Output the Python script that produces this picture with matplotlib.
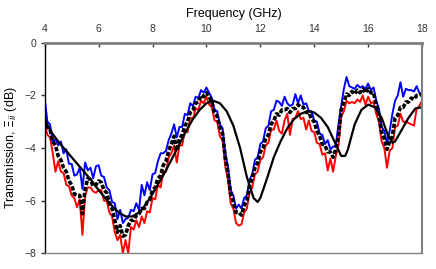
#!/usr/bin/env python3

import matplotlib
matplotlib.use('Agg')
import matplotlib.pyplot as plt
import numpy as np

# measured traces, 0.1 GHz steps from 4 to 18 GHz
freq = np.round(np.arange(4.0, 18.05, 0.1), 2)

meas_mid = [
    -2.9, -3.2, -3.3, -3.75, -3.9, -4.3, -4.45, -4.75, -4.9, -5.25,
    -5.4, -5.75, -5.8, -5.8, -6.5, -5.55, -5.15, -5.2, -5.45, -5.4,
    -5.25, -5.3, -5.6, -5.7, -6.1, -6.3, -6.75, -7.2, -6.95, -7.35,
    -7.3, -6.95, -6.75, -6.75, -6.55, -6.5, -6.3, -6.3, -6.05, -5.95,
    -5.6, -5.5, -5.15, -5.05, -4.65, -4.5, -4.1, -3.85, -3.55, -4.1,
    -3.65, -3.5, -3.15, -3.0, -2.65, -2.55, -2.3, -2.25, -2.0, -2.05,
    -1.9, -2.05, -2.25, -2.65, -2.8, -3.2, -3.45, -4.35, -4.95, -5.75,
    -6.05, -6.45, -6.45, -6.55, -6.2, -6.0, -5.45, -5.15, -4.75, -4.55,
    -4.15, -4.0, -3.65, -3.5, -3.1, -2.95, -2.7, -2.75, -2.55, -2.55,
    -2.5, -2.65, -2.5, -2.5, -2.35, -2.45, -2.45, -2.65, -2.65, -2.9,
    -3.0, -3.35, -3.55, -3.85, -3.9, -4.15, -4.15, -4.35, -4.05, -3.55,
    -2.55, -2.25, -1.95, -2.0, -1.85, -1.95, -1.8, -1.9, -1.75, -1.9,
    -1.75, -1.9, -1.9, -2.35, -2.75, -3.4, -3.65, -4.05, -3.75, -3.55,
    -2.85, -2.75, -2.45, -2.45, -2.25, -2.25, -2.1, -2.15, -2.0, -2.0,
    -1.95,
]

meas_red = [
    -3.1, -3.5, -3.6, -4.2, -4.9, -4.5, -4.9, -4.95, -5.4, -5.45,
    -5.8, -5.9, -6.25, -5.95, -7.3, -5.8, -5.5, -5.5, -5.65, -5.7,
    -5.6, -5.6, -6.0, -6.0, -6.45, -6.6, -7.2, -7.5, -7.3, -8.0,
    -7.5, -8.0, -7.0, -7.1, -6.75, -7.0, -6.6, -6.85, -6.4, -6.45,
    -5.9, -5.95, -5.4, -5.5, -4.9, -4.9, -4.35, -4.2, -3.9, -4.55,
    -3.9, -3.9, -3.35, -3.4, -2.85, -2.9, -2.5, -2.55, -2.2, -2.3,
    -2.05, -2.35, -2.45, -2.95, -3.0, -3.55, -3.7, -4.7, -5.2, -6.1,
    -6.3, -6.85, -6.95, -6.9, -6.45, -6.3, -5.7, -5.5, -5.0, -4.9,
    -4.45, -4.35, -3.9, -3.8, -3.3, -3.3, -2.95, -3.35, -3.45, -2.95,
    -2.7, -3.5, -2.9, -2.85, -2.6, -2.9, -2.85, -3.3, -2.95, -3.35,
    -3.4, -3.8, -3.85, -4.25, -4.2, -4.85, -4.4, -4.9, -4.3, -3.9,
    -2.8, -2.6, -2.2, -2.3, -2.25, -2.3, -2.15, -2.25, -2.0, -2.35,
    -2.05, -2.3, -2.25, -2.7, -3.0, -3.75, -4.0, -4.75, -4.1, -4.0,
    -3.2, -3.15, -2.7, -3.0, -3.0, -3.05, -3.1, -3.15, -2.5, -2.4,
    -2.2,
]

meas_blue = [
    -2.1, -3.0, -3.1, -3.8, -3.65, -3.9, -3.75, -4.2, -4.05, -4.6,
    -4.6, -5.05, -5.0, -4.75, -5.55, -4.55, -4.85, -4.75, -5.15, -4.7,
    -4.65, -5.05, -5.1, -5.5, -5.6, -6.05, -6.1, -6.7, -6.35, -6.85,
    -6.7, -6.65, -6.35, -6.4, -6.1, -6.35, -5.4, -5.8, -5.3, -5.6,
    -5.0, -4.95, -4.5, -4.2, -4.2, -4.1, -3.7, -3.45, -3.1, -3.6,
    -3.2, -3.2, -2.7, -2.75, -2.3, -2.4, -2.05, -2.1, -1.8, -1.9,
    -1.7, -1.9, -2.1, -2.55, -2.6, -3.1, -3.25, -4.2, -4.7, -5.6,
    -5.8, -6.3, -6.15, -6.3, -5.9, -5.8, -5.2, -5.0, -4.45, -4.35,
    -3.85, -3.75, -3.25, -3.15, -2.6, -2.55, -2.2, -2.25, -2.4, -2.05,
    -2.3, -2.4, -2.35, -1.95, -2.3, -2.0, -2.35, -2.3, -2.6, -2.6,
    -2.95, -3.0, -3.45, -3.5, -3.85, -3.7, -4.05, -3.95, -3.9, -3.1,
    -2.4, -1.75, -1.3, -1.65, -1.7, -1.75, -1.6, -1.7, -1.65, -1.75,
    -1.55, -1.8, -1.7, -2.2, -2.5, -3.2, -3.35, -3.8, -3.35, -2.7,
    -2.2, -2.0, -1.5, -2.05, -1.75, -1.8, -1.8, -1.85, -1.65, -1.9,
    -1.95,
]

# simulated curve
sim_freq = [4.0, 4.25, 4.5, 4.75, 5.0, 5.25, 5.5, 5.75, 6.0, 6.25, 6.5, 6.75,
            7.0, 7.25, 7.5, 7.75, 8.0, 8.25, 8.5, 8.75, 9.0, 9.25, 9.5, 9.75,
            10.0, 10.25, 10.5, 10.75, 11.0, 11.25, 11.5, 11.75, 11.9, 12.0,
            12.25, 12.5, 12.75, 13.0, 13.25, 13.5, 13.75, 14.0, 14.25, 14.5,
            14.75, 15.0, 15.15, 15.25, 15.5, 15.75, 16.0, 16.25, 16.5, 16.75,
            16.9, 17.0, 17.25, 17.5, 17.75, 18.0]
sim_vals = [-2.95, -3.4, -3.75, -4.05, -4.35, -4.65, -4.95, -5.25, -5.6, -5.9,
            -6.2, -6.45, -6.6, -6.6, -6.45, -6.15, -5.75, -5.3, -4.85, -4.35,
            -3.85, -3.35, -2.9, -2.55, -2.3, -2.2, -2.3, -2.6, -3.15, -4.0,
            -5.1, -5.9, -6.05, -5.9, -5.15, -4.35, -3.75, -3.25, -2.9, -2.7,
            -2.6, -2.65, -2.85, -3.2, -3.75, -4.3, -4.3, -4.05, -3.1, -2.55,
            -2.35, -2.45, -2.85, -3.55, -3.8, -3.75, -3.3, -2.85, -2.5, -2.45]

xticks = [4, 6, 8, 10, 12, 14, 16, 18]
yticks = [0, -2, -4, -6, -8]

plt.rcParams['font.family'] = ['Liberation Sans', 'DejaVu Sans']

fig = plt.figure(figsize=(4.36, 2.69), dpi=100)
ax = fig.add_axes([0.1025, 0.0584, 0.8655, 0.7826])

ax.plot(freq, meas_red, color='#ff0000', lw=1.4)
ax.plot(freq, meas_blue, color='#0000ff', lw=1.4)
ax.plot(freq, meas_mid, color='k', lw=2.6, ls=(0, (1.2, 0.5)))
ax.plot(sim_freq, sim_vals, color='k', lw=1.6)

ax.set_xlim(4, 18)
ax.set_ylim(-8, 0)
ax.set_xticks(xticks)
ax.set_yticks(yticks)
ax.xaxis.tick_top()
ax.xaxis.set_label_position('top')
ax.tick_params(axis='x', direction='in', length=3, width=1, colors='#333333',
               labelsize=7.5, pad=6)
ax.tick_params(axis='y', direction='out', length=3, width=1, colors='#333333',
               labelsize=7.5, pad=3)
ax.set_xlabel('Frequency (GHz)', fontsize=9, labelpad=5)
ax.set_ylabel(r'Transmission, $\Xi_{ii}$ (dB)', fontsize=9, labelpad=4)

ax.spines['top'].set_color('#808080')
ax.spines['top'].set_linewidth(2)
ax.spines['left'].set_color('k')
ax.spines['left'].set_linewidth(1)
ax.spines['right'].set_color('#808080')
ax.spines['right'].set_linewidth(1.5)
ax.spines['bottom'].set_color('#808080')
ax.spines['bottom'].set_linewidth(1)

fig.savefig('out.png', dpi=100)
